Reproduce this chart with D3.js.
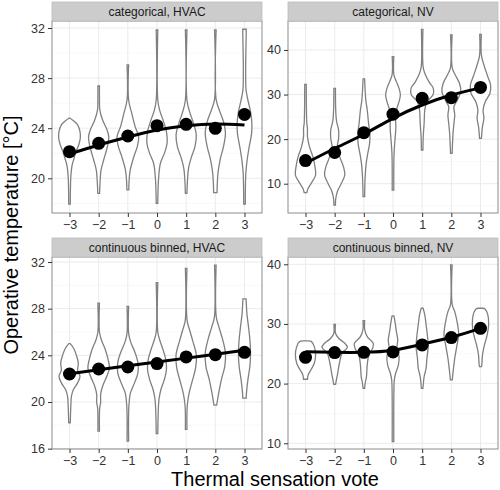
<!DOCTYPE html>
<html><head><meta charset="utf-8">
<script src="https://cdn.jsdelivr.net/npm/d3@7"></script>
<style>body{margin:0;background:#fff}svg{display:block}</style>
</head><body><svg id="chart" width="500" height="490"></svg>
<script>
// ---------- DATA ----------
const categories = [-3, -2, -1, 0, 1, 2, 3];
const panelTitles = ["categorical, HVAC", "categorical, NV", "continuous binned, HVAC", "continuous binned, NV"];
const xTitle = "Thermal sensation vote";
const yTitle = "Operative temperature [°C]";

const yTicksCatHVAC = [20, 24, 28, 32];
const yTicksCatNV = [10, 20, 30, 40];
const yTicksConHVAC = [16, 20, 24, 28, 32];
const yTicksConNV = [10, 20, 30, 40];

const yRangeCatHVAC = [17.23, 32.56];
const yRangeCatNV = [3.43, 46.5];
const yRangeConHVAC = [15.97, 32.43];
const yRangeConNV = [9.04, 41.22];

const meansCatHVAC = [22.13, 22.79, 23.38, 24.2, 24.31, 23.99, 25.1];
const meansCatNV = [15.2, 17.0, 21.45, 25.6, 29.15, 29.3, 31.6];
const meansConHVAC = [22.4, 22.83, 23.0, 23.29, 23.86, 24.06, 24.26];
const meansConNV = [24.41, 25.2, 25.25, 25.3, 26.48, 27.71, 29.27];

const fitCatHVAC = [21.94, 22.66, 23.3, 23.86, 24.2, 24.34, 24.26];
const fitCatNV = [14.57, 17.9, 21.1, 24.67, 27.66, 29.9, 31.5];
const fitConHVAC = [22.43, 22.76, 23.1, 23.43, 23.76, 24.1, 24.43];
const fitConNV = [25.36, 25.25, 25.25, 25.6, 26.6, 27.77, 29.27];

// violin profiles: [temperature, relative density] from top to bottom
const violinsCatHVAC = [
  [[24.8,0.05],[24.6,0.3],[24.26,0.62],[23.72,0.8],[23.19,0.82],[22.66,0.7],[22.13,0.5],[21.6,0.35],[21.06,0.2],[20.13,0.1],[19.07,0.07],[17.95,0.06]],
  [[27.37,0.06],[26.5,0.06],[25.45,0.09],[24.65,0.3],[23.86,0.64],[23.33,0.77],[22.8,0.72],[22.26,0.6],[21.46,0.38],[20.66,0.18],[19.6,0.1],[18.8,0.07]],
  [[29.05,0.06],[26.25,0.06],[25.19,0.3],[24.12,0.56],[23.33,0.82],[22.53,0.72],[21.73,0.46],[20.66,0.18],[19.87,0.1],[19.07,0.07]],
  [[31.84,0.06],[26.25,0.06],[25.45,0.2],[24.65,0.46],[23.72,0.72],[22.8,0.77],[21.99,0.56],[21.2,0.26],[20.13,0.13],[19.07,0.08],[18.0,0.06]],
  [[31.84,0.06],[26.25,0.06],[25.32,0.26],[24.39,0.56],[23.46,0.77],[22.53,0.67],[21.73,0.41],[20.8,0.18],[19.87,0.1],[18.8,0.06]],
  [[31.84,0.06],[26.3,0.06],[25.45,0.3],[24.52,0.62],[23.59,0.77],[22.53,0.62],[21.46,0.36],[20.4,0.2],[19.33,0.14],[18.85,0.13]],
  [[31.9,0.13],[31.57,0.13],[28.91,0.09],[27.05,0.12],[26.25,0.26],[25.32,0.46],[24.39,0.56],[23.59,0.54],[22.53,0.36],[21.46,0.2],[20.4,0.1],[17.95,0.06]]
];
const violinsCatNV = [
  [[32.3,0.06],[23.55,0.1],[22.42,0.15],[20.55,0.15],[18.31,0.3],[16.07,0.56],[13.82,0.72],[11.95,0.77],[10.46,0.51],[8.96,0.2],[7.99,0.1]],
  [[31.4,0.06],[24.3,0.13],[22.05,0.3],[20.18,0.3],[18.31,0.2],[16.07,0.38],[13.82,0.67],[11.95,0.77],[10.08,0.51],[8.21,0.2],[6.34,0.07],[5.22,0.06]],
  [[33.5,0.06],[28.78,0.15],[26.54,0.26],[23.55,0.36],[21.3,0.46],[19.06,0.44],[16.81,0.3],[14.57,0.18],[11.58,0.1],[7.1,0.06]],
  [[38.5,0.06],[34.4,0.07],[32.9,0.26],[31.4,0.46],[29.9,0.56],[28.4,0.46],[26.54,0.26],[24.3,0.2],[22.8,0.22],[19.8,0.15],[16.8,0.08],[8.59,0.06]],
  [[44.64,0.06],[36.26,0.07],[34.76,0.2],[32.9,0.51],[31.4,0.85],[29.9,0.82],[28.4,0.36],[26.54,0.2],[23.55,0.15],[20.55,0.08],[17.56,0.06]],
  [[43.37,0.06],[36.0,0.07],[34.4,0.3],[32.52,0.62],[30.65,0.72],[28.78,0.46],[27.29,0.2],[25.42,0.26],[23.55,0.2],[21.3,0.13],[16.81,0.06]],
  [[43.5,0.06],[38.8,0.07],[36.63,0.26],[34.4,0.51],[32.15,0.77],[30.28,0.72],[28.4,0.36],[26.54,0.2],[24.67,0.26],[22.8,0.15],[20.18,0.07]]
];
const violinsConHVAC = [
  [[25.0,0.05],[24.63,0.3],[24.06,0.51],[23.35,0.67],[22.72,0.62],[22.2,0.8],[21.64,0.62],[21.07,0.3],[20.5,0.15],[19.64,0.1],[18.22,0.06]],
  [[28.47,0.06],[26.0,0.06],[25.34,0.2],[24.48,0.51],[23.63,0.72],[22.92,0.82],[22.2,0.62],[21.35,0.3],[20.64,0.15],[19.93,0.15],[19.5,0.08],[17.5,0.06]],
  [[28.19,0.06],[25.9,0.06],[25.2,0.2],[24.2,0.56],[23.35,0.77],[22.49,0.77],[21.64,0.51],[20.78,0.2],[19.64,0.08],[16.65,0.06]],
  [[30.23,0.06],[26.0,0.06],[25.34,0.2],[24.48,0.46],[23.63,0.67],[22.78,0.72],[21.92,0.56],[21.07,0.3],[20.21,0.15],[17.28,0.06]],
  [[31.46,0.06],[27.0,0.07],[26.19,0.26],[25.2,0.51],[24.06,0.77],[22.92,0.72],[21.78,0.46],[20.64,0.2],[19.64,0.08],[17.65,0.06]],
  [[31.74,0.06],[27.3,0.07],[26.48,0.26],[25.34,0.56],[24.2,0.77],[23.06,0.72],[21.92,0.46],[20.78,0.26],[19.93,0.13],[19.73,0.1]],
  [[28.84,0.12],[28.6,0.13],[27.62,0.18],[26.48,0.3],[25.34,0.41],[24.2,0.46],[23.06,0.41],[21.92,0.26],[20.78,0.15],[20.33,0.13]]
];
const violinsConNV = [
  [[27.15,0.2],[27.04,0.46],[26.2,0.67],[24.8,0.77],[23.41,0.67],[22.29,0.41],[21.45,0.2],[20.73,0.15]],
  [[29.94,0.06],[28.4,0.07],[27.6,0.3],[26.76,0.77],[26.09,0.97],[25.08,0.56],[23.41,0.36],[21.73,0.23],[20.61,0.13],[19.89,0.07]],
  [[30.56,0.06],[29.0,0.07],[27.88,0.26],[26.76,0.72],[25.92,0.67],[24.8,0.38],[23.13,0.26],[21.17,0.2],[20.06,0.1],[19.22,0.06]],
  [[31.34,0.07],[30.39,0.15],[28.72,0.26],[27.32,0.36],[25.92,0.3],[24.53,0.46],[23.13,0.41],[21.73,0.2],[20.61,0.1],[18.94,0.07],[10.28,0.06]],
  [[32.63,0.07],[31.51,0.2],[29.83,0.3],[27.88,0.41],[26.2,0.46],[24.25,0.36],[22.57,0.3],[21.17,0.15],[19.22,0.06]],
  [[39.9,0.06],[33.2,0.07],[32.07,0.26],[30.11,0.46],[28.16,0.56],[26.2,0.41],[24.25,0.26],[22.29,0.15],[20.61,0.07]],
  [[32.63,0.2],[32.46,0.36],[31.51,0.56],[29.83,0.62],[28.16,0.51],[26.48,0.3],[24.8,0.15],[23.13,0.1],[22.85,0.07]]
];

// ---------- LAYOUT ----------
const svg = d3.select("#chart");
const FONT = "'Liberation Sans', Arial, Helvetica, sans-serif";
const cols = [[52, 262], [288, 498]];
const rows = [[21, 213], [257, 449]];
const stripH = 19;

const panels = [
  {title: panelTitles[0], col: 0, row: 0, yRange: yRangeCatHVAC, ticks: yTicksCatHVAC, means: meansCatHVAC, fit: fitCatHVAC, violins: violinsCatHVAC},
  {title: panelTitles[1], col: 1, row: 0, yRange: yRangeCatNV, ticks: yTicksCatNV, means: meansCatNV, fit: fitCatNV, violins: violinsCatNV},
  {title: panelTitles[2], col: 0, row: 1, yRange: yRangeConHVAC, ticks: yTicksConHVAC, means: meansConHVAC, fit: fitConHVAC, violins: violinsConHVAC},
  {title: panelTitles[3], col: 1, row: 1, yRange: yRangeConNV, ticks: yTicksConNV, means: meansConNV, fit: fitConNV, violins: violinsConNV}
];

panels.forEach(p => {
  const [x0, x1] = cols[p.col];
  const [y0, y1] = rows[p.row];
  const x = d3.scalePoint().domain(categories).range([x0, x1]).padding(0.6);
  const y = d3.scaleLinear().domain(p.yRange).range([y1, y0]);
  const hw = d3.scaleLinear().domain([0, 1]).range([0, 0.45 * x.step()]);
  const g = svg.append("g");

  g.append("rect").attr("x", x0).attr("y", y0).attr("width", x1 - x0).attr("height", y1 - y0).attr("fill", "#fff");

  // minor grid
  const step = p.ticks[1] - p.ticks[0];
  const minor = [];
  for (let i = 0; i <= p.ticks.length; i++) {
    const v = p.ticks[0] - step / 2 + i * step;
    if (v > p.yRange[0] && v < p.yRange[1]) minor.push(v);
  }
  g.selectAll(".minor").data(minor).join("line")
    .attr("x1", x0).attr("x2", x1).attr("y1", d => y(d)).attr("y2", d => y(d))
    .attr("stroke", "#f7f7f7").attr("stroke-width", 0.8);
  g.selectAll(".majY").data(p.ticks).join("line")
    .attr("x1", x0).attr("x2", x1).attr("y1", d => y(d)).attr("y2", d => y(d))
    .attr("stroke", "#ebebeb").attr("stroke-width", 1);
  g.selectAll(".majX").data(categories).join("line")
    .attr("x1", d => x(d)).attr("x2", d => x(d)).attr("y1", y0).attr("y2", y1)
    .attr("stroke", "#ebebeb").attr("stroke-width", 1);

  // violins
  p.violins.forEach((prof, i) => {
    const cx = x(categories[i]);
    const area = d3.area()
      .y(d => y(d[0]))
      .x0(d => cx - hw(d[1]))
      .x1(d => cx + hw(d[1]))
      .curve(d3.curveCatmullRom.alpha(0.5));
    g.append("path").attr("d", area(prof))
      .attr("fill", "#fff").attr("stroke", "#808080").attr("stroke-width", 1.3);
  });

  // fit line
  const line = d3.line().x((d, i) => x(categories[i])).y(d => y(d)).curve(d3.curveNatural);
  g.append("path").attr("d", line(p.fit)).attr("fill", "none").attr("stroke", "#000").attr("stroke-width", 3);

  // means
  g.selectAll(".pt").data(p.means).join("circle")
    .attr("cx", (d, i) => x(categories[i])).attr("cy", d => y(d)).attr("r", 6.5).attr("fill", "#000");

  // border
  g.append("rect").attr("x", x0).attr("y", y0).attr("width", x1 - x0).attr("height", y1 - y0)
    .attr("fill", "none").attr("stroke", "#8c8c8c").attr("stroke-width", 1);

  // strip
  g.append("rect").attr("x", x0).attr("y", y0 - stripH).attr("width", x1 - x0).attr("height", stripH)
    .attr("fill", "#cccccc").attr("stroke", "#bdbdbd").attr("stroke-width", 0.8);
  g.append("text").attr("x", (x0 + x1) / 2).attr("y", y0 - stripH / 2 + 4.3)
    .attr("text-anchor", "middle").attr("font-family", FONT).attr("font-size", 12).attr("fill", "#1a1a1a")
    .text(p.title);

  // axes
  const ya = d3.axisLeft(y).tickValues(p.ticks).tickSize(4).tickPadding(3);
  const yg = g.append("g").attr("transform", `translate(${x0},0)`).call(ya);
  const xa = d3.axisBottom(x).tickSize(4).tickPadding(3).tickFormat(d => d < 0 ? "\u2212" + Math.abs(d) : d);
  const xg = g.append("g").attr("transform", `translate(0,${y1})`).call(xa);
  [yg, xg].forEach(a => {
    a.select(".domain").remove();
    a.selectAll(".tick line").attr("stroke", "#333").attr("stroke-width", 1);
    a.selectAll(".tick text").attr("font-family", FONT).attr("font-size", 12.5).attr("fill", "#333");
  });
});

// axis titles
svg.append("text").attr("x", 275).attr("y", 486).attr("text-anchor", "middle")
  .attr("font-family", FONT).attr("font-size", 20).attr("fill", "#000").text(xTitle);
svg.append("text").attr("transform", "translate(17.5,235) rotate(-90)").attr("text-anchor", "middle")
  .attr("font-family", FONT).attr("font-size", 20).attr("fill", "#000").text(yTitle);
</script>
</body></html>
